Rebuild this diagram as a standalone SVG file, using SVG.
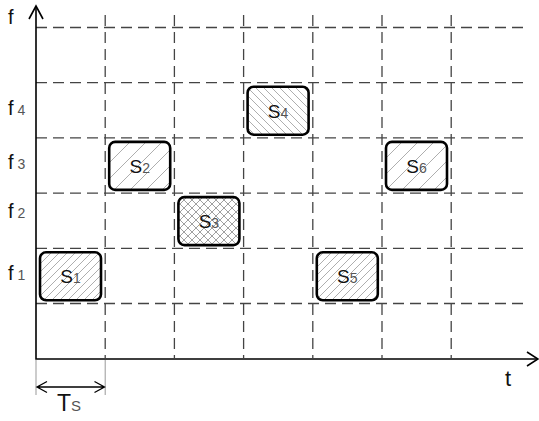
<svg xmlns="http://www.w3.org/2000/svg" width="539" height="421" viewBox="0 0 539 421">
<style>
.grid{stroke:#444;stroke-width:1.3;fill:none;stroke-dasharray:11 6}
.axis{stroke:#000;stroke-width:1.6;fill:none}
.box{stroke:#000;stroke-width:2.6}
.lbl{font-family:"Liberation Sans",Arial,sans-serif;font-size:20px;fill:#111}
.sl{font-size:19px}
.sub{font-size:14px;fill:#555}
.dim{stroke:#000;stroke-width:1.3;fill:none}
.ext{stroke:#999;stroke-width:1;fill:none}
</style>
<defs>
<pattern id="hf" patternUnits="userSpaceOnUse" width="8" height="8">
<path d="M0,8 L8,0 M-2,2 L2,-2 M6,10 L10,6" stroke="#999" stroke-width="0.8"/>
</pattern>
<pattern id="hfw" patternUnits="userSpaceOnUse" width="16" height="16">
<path d="M0,16 L16,0 M-2,2 L2,-2 M14,18 L18,14" stroke="#999" stroke-width="0.8"/>
</pattern>
<pattern id="hb" patternUnits="userSpaceOnUse" width="8" height="8">
<path d="M0,0 L8,8 M-2,6 L2,10 M6,-2 L10,2" stroke="#999" stroke-width="0.8"/>
</pattern>
<pattern id="hx" patternUnits="userSpaceOnUse" width="8" height="8">
<path d="M0,0 L8,8 M-2,6 L2,10 M6,-2 L10,2 M0,8 L8,0 M-2,2 L2,-2 M6,10 L10,6" stroke="#888" stroke-width="0.8"/>
</pattern>
</defs>
<rect width="539" height="421" fill="#fff"/>
<g id="grid">
<path class="grid" d="M36,27.5 H528 M36,82.7 H528 M36,137.9 H528 M36,193.1 H528 M36,248.3 H528 M36,303.5 H528"/>
<path class="grid" d="M105.2,15 V358 M174.4,15 V358 M243.6,15 V358 M312.8,15 V358 M382,15 V358 M451.2,15 V358"/>
</g>
<g id="axes">
<path class="axis" d="M36,6 V359 H538"/>
<path class="axis" d="M29,19 L36,6 L43,19"/>
<path class="axis" d="M527,352 L538,359 L527,366"/>
<text class="lbl" x="8" y="24">f</text>
<text class="lbl" x="505" y="386" style="font-size:22px">t</text>
<text class="lbl" x="8" y="115">f<tspan class="sub" dx="4">4</tspan></text>
<text class="lbl" x="8" y="169">f<tspan class="sub" dx="4">3</tspan></text>
<text class="lbl" x="8" y="218">f<tspan class="sub" dx="4">2</tspan></text>
<text class="lbl" x="8" y="280">f<tspan class="sub" dx="4">1</tspan></text>
</g>
<g id="S1">
<rect class="box" x="40" y="252.3" width="61" height="48" rx="6" fill="url(#hf)"/>
<text class="lbl sl" x="70.5" y="283.3" text-anchor="middle">S<tspan class="sub">1</tspan></text>
</g>
<g id="S2">
<rect class="box" x="109.2" y="141.9" width="61" height="48" rx="6" fill="url(#hfw)"/>
<text class="lbl sl" x="139.7" y="172.9" text-anchor="middle">S<tspan class="sub">2</tspan></text>
</g>
<g id="S3">
<rect class="box" x="178.4" y="197.1" width="61" height="48" rx="6" fill="url(#hx)"/>
<text class="lbl sl" x="208.9" y="228.1" text-anchor="middle">S<tspan class="sub">3</tspan></text>
</g>
<g id="S4">
<rect class="box" x="247.6" y="86.7" width="61" height="48" rx="6" fill="url(#hb)"/>
<text class="lbl sl" x="278.1" y="117.7" text-anchor="middle">S<tspan class="sub">4</tspan></text>
</g>
<g id="S5">
<rect class="box" x="316.8" y="252.3" width="61" height="48" rx="6" fill="url(#hf)"/>
<text class="lbl sl" x="347.3" y="283.3" text-anchor="middle">S<tspan class="sub">5</tspan></text>
</g>
<g id="S6">
<rect class="box" x="386" y="141.9" width="61" height="48" rx="6" fill="url(#hfw)"/>
<text class="lbl sl" x="416.5" y="172.9" text-anchor="middle">S<tspan class="sub">6</tspan></text>
</g>
<g id="Ts">
<path class="ext" d="M36,360 V395 M105.2,360 V395"/>
<path class="dim" d="M37,387 H104.5 M47,381.5 L37,387 L47,392.5 M94.5,381.5 L104.5,387 L94.5,392.5"/>
<text class="lbl" x="57" y="411" style="font-size:23px">T<tspan class="sub" style="font-size:15px">S</tspan></text>
</g>
</svg>
